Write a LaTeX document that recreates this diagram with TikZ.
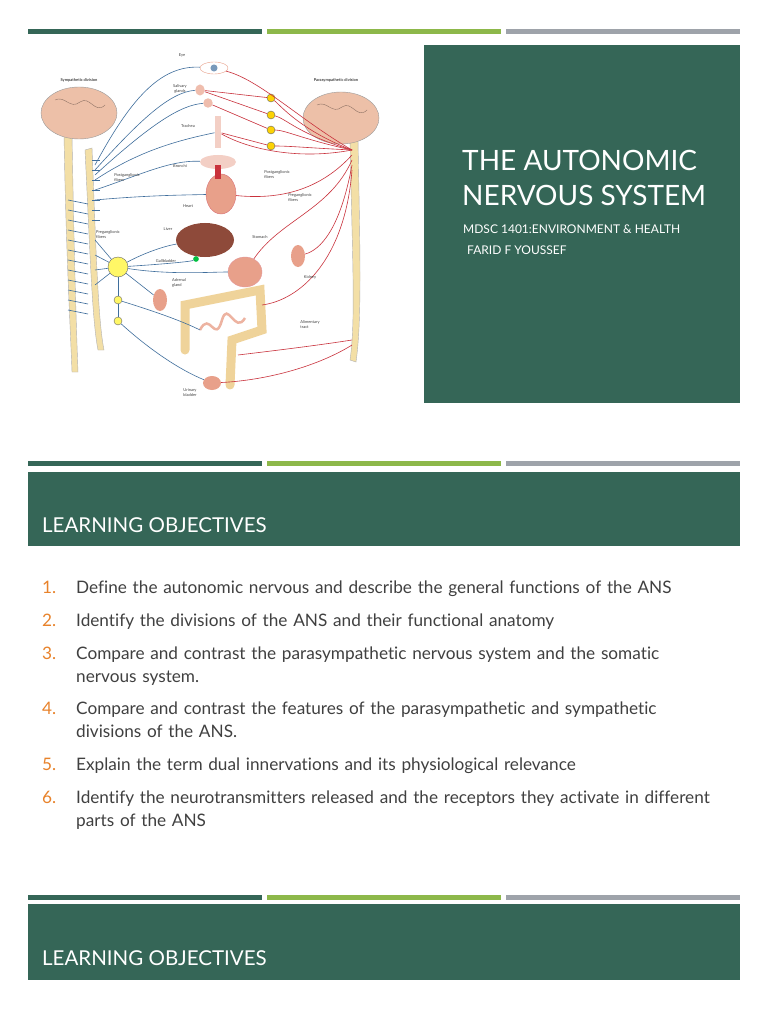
\documentclass[tikz,border=0pt]{standalone}
\usepackage{fontspec}
\setmainfont{Lato}[Ligatures={NoCommon}]
\usetikzlibrary{shapes.geometric}
\definecolor{slgreen}{HTML}{356657}
\definecolor{lgreen}{HTML}{8DB84A}
\definecolor{bgrey}{HTML}{9EA3AA}
\definecolor{tgrey}{HTML}{404040}
\definecolor{onum}{HTML}{E8822A}
\definecolor{nblue}{HTML}{3F6E9C}
\definecolor{nred}{HTML}{C9323C}
\definecolor{brain}{HTML}{EDC0A8}
\definecolor{cord}{HTML}{F3DFA6}
\definecolor{liver}{HTML}{8E4A3A}
\definecolor{organ}{HTML}{E8A08A}
\definecolor{gut}{HTML}{EFD39A}
\tikzset{
 lbl/.style={font=\fontsize{4}{5}\selectfont, text=black!75, inner sep=0pt},
 obj/.style={text=tgrey, anchor=north west, align=left, text width=690pt, inner sep=0pt, font=\fontsize{17.2}{23}\selectfont},
 num/.style={text=onum, anchor=north west, inner sep=0pt, font=\fontsize{17.2}{23}\selectfont},
 bl/.style={nblue, line width=0.6pt},
 rd/.style={nred, line width=0.6pt},
 gang/.style={circle, draw=black!60, fill=yellow!60!white, inner sep=0pt},
}
\newcommand{\topbars}[1]{%
 \fill[slgreen] (28,#1) rectangle (262,#1+5);
 \fill[lgreen] (267,#1) rectangle (501,#1+5);
 \fill[bgrey] (506,#1) rectangle (740,#1+5);}
\begin{document}
\begin{tikzpicture}[x=1pt,y=-1pt]
\useasboundingbox (0,0) rectangle (768,1024);
\fill[white] (0,0) rectangle (768,1024);
\topbars{29}
\topbars{461}
\topbars{895}
% ---------- illustration -------
\begin{scope}
\fill[cord, draw=black!30] (64,135) .. controls (66,250) and (70,320) .. (72,372) -- (78,372) .. controls (76,320) and (74,250) .. (72,135) -- cycle;
\fill[cord, draw=black!30] (85,150) .. controls (90,250) and (92,320) .. (98,350) -- (104,350) .. controls (98,320) and (96,250) .. (92,148) -- cycle;
\fill[cord, draw=black!30] (350,140) .. controls (352,250) and (356,320) .. (350,360) -- (356,362) .. controls (362,320) and (360,250) .. (358,140) -- cycle;
\node[ellipse, fill=brain, draw=black!40, minimum width=76pt, minimum height=52pt] (lbrain) at (79,113) {};
\node[ellipse, fill=brain, draw=black!40, minimum width=76pt, minimum height=52pt] (rbrain) at (341,118) {};
\draw[brain!60!black, line width=0.4pt] (55,100) .. controls (65,95) and (70,110) .. (80,102) .. controls (90,95) and (95,115) .. (105,105);
\draw[brain!60!black, line width=0.4pt] (317,105) .. controls (327,100) and (332,115) .. (342,107) .. controls (352,100) and (357,120) .. (367,110);
\node[ellipse, fill=white, draw=organ, minimum width=28pt, minimum height=12pt] (eye) at (214,68) {};
\node[circle, fill=nblue!70, inner sep=2.5pt] (iris) at (214,68) {};
\node[ellipse, fill=organ!70, minimum width=9pt, minimum height=11pt] (saliv) at (200,90) {};
\node[ellipse, fill=organ!70, minimum width=7pt, minimum height=5pt] (saliv2) at (208,103) {};
\node[rectangle, fill=organ!50, minimum width=6pt, minimum height=32pt] (trachea) at (218,132) {};
\node[ellipse, fill=organ!50, minimum width=36pt, minimum height=14pt] (bronchi) at (218,162) {};
\node[ellipse, fill=organ, draw=nred!70, minimum width=30pt, minimum height=40pt] (heart) at (221,194) {};
\node[rectangle, fill=nred, minimum width=4pt, minimum height=14pt] (aorta) at (218,172) {};
\node[ellipse, fill=liver, minimum width=58pt, minimum height=34pt] (liver) at (205,240) {};
\node[circle, fill=green!50!teal, inner sep=2pt] (gall) at (196,259) {};
\node[ellipse, fill=organ, draw=nred!50, minimum width=34pt, minimum height=30pt] (stomach) at (245,272) {};
\node[ellipse, fill=organ, minimum width=14pt, minimum height=22pt] (lkid) at (160,300) {};
\node[ellipse, fill=organ, minimum width=14pt, minimum height=22pt] (rkid) at (298,256) {};
\draw[gut, line width=9pt, line cap=round] (185,350) -- (185,305) -- (260,290) -- (262,330) -- (232,340) -- (230,385);
\draw[organ!80, line width=2.5pt] (200,330) .. controls (210,310) and (215,345) .. (222,320) .. controls (228,300) and (235,335) .. (245,318);
\node[ellipse, fill=organ, minimum width=18pt, minimum height=14pt] (bladder) at (212,383) {};
\node[gang, minimum size=20pt] (g1) at (118,267) {};
\node[gang, minimum size=8pt] (g2) at (118,300) {};
\node[gang, minimum size=8pt] (g3) at (118,321) {};
\foreach \yy/\n in {98/p1,115/p2,130/p3,146/p4}{\node[gang, minimum size=8pt, fill=yellow!70!orange] (\n) at (271,\yy) {};}
\foreach \yy in {160,170,180,190,200,210,220}{\draw[bl] (92,\yy) -- (100,\yy);}
\foreach \yy in {200,210,220,230,240,250,260,270,280,290,300,310}{\draw[bl] (68,\yy) -- (88,\yy+4);}
\draw[bl] (95,165) .. controls (130,100) and (160,65) .. (eye);
\draw[bl] (95,170) .. controls (140,120) and (170,92) .. (saliv);
\draw[bl] (95,175) .. controls (150,125) and (180,105) .. (saliv2);
\draw[bl] (95,180) .. controls (140,150) and (180,140) .. (trachea);
\draw[bl] (95,190) .. controls (140,175) and (170,160) .. (bronchi);
\draw[bl] (95,200) .. controls (150,195) and (190,195) .. (heart);
\draw[bl] (g1) .. controls (150,250) and (170,245) .. (liver);
\draw[bl] (g1) .. controls (150,265) and (190,262) .. (gall);
\draw[bl] (g1) .. controls (170,275) and (210,272) .. (stomach);
\draw[bl] (g1) -- (lkid);
\draw[bl] (g2) .. controls (150,310) and (180,320) .. (200,330);
\draw[bl] (g3) .. controls (150,350) and (180,370) .. (bladder);
\draw[bl] (g1) -- (g2) -- (g3);
\foreach \yy in {240,255,270,285}{\draw[bl] (95,\yy) -- (g1);}
\draw[rd] (352,150) .. controls (300,120) and (260,80) .. (eye);
\draw[rd] (352,150) .. controls (300,130) and (280,105) .. (p1) -- (saliv);
\draw[rd] (352,150) .. controls (300,135) and (285,118) .. (p2) -- (saliv);
\draw[rd] (352,150) .. controls (305,140) and (285,130) .. (p3) -- (saliv2);
\draw[rd] (352,150) .. controls (310,148) and (290,146) .. (p4) -- (trachea);
\draw[rd] (352,150) .. controls (300,160) and (250,150) .. (trachea);
\draw[rd] (352,155) .. controls (320,190) and (280,200) .. (heart);
\draw[rd] (352,160) .. controls (330,210) and (280,220) .. (stomach);
\draw[rd] (352,165) .. controls (340,230) and (320,250) .. (rkid);
\draw[rd] (352,170) .. controls (345,260) and (300,300) .. (262,305);
\draw[rd] (352,340) .. controls (320,345) and (280,350) .. (238,355);
\draw[rd] (352,345) .. controls (320,365) and (270,380) .. (bladder);
\node[lbl] (ls) at (79,80) {\textbf{Sympathetic division}};
\node[lbl] (lp) at (336,80) {\textbf{Parasympathetic division}};
\node[lbl] (leye) at (182,55) {Eye};
\node[lbl, align=center] (lsal) at (180,89) {Salivary\\glands};
\node[lbl] (ltr) at (188,126) {Trachea};
\node[lbl] (lbr) at (180,166) {Bronchi};
\node[lbl] (lhe) at (188,206) {Heart};
\node[lbl] (lli) at (168,229) {Liver};
\node[lbl] (lga) at (166,261) {Gallbladder};
\node[lbl, align=left] (lad) at (179,283) {Adrenal\\gland};
\node[lbl] (lst) at (260,237) {Stomach};
\node[lbl] (lki) at (310,277) {Kidney};
\node[lbl, align=left] (lal) at (310,325) {Alimentary\\tract};
\node[lbl, align=center] (lub) at (190,393) {Urinary\\bladder};
\node[lbl, align=left] (lpo1) at (127,178) {Postganglionic\\fibers};
\node[lbl, align=left] (lpr1) at (108,235) {Preganglionic\\fibers};
\node[lbl, align=left] (lpo2) at (277,175) {Postganglionic\\fibers};
\node[lbl, align=left] (lpr2) at (300,198) {Preganglionic\\fibers};
\end{scope}
% ---------- title panel -------
\fill[slgreen] (424,45) rectangle (740,403);
\node[anchor=north west, inner sep=0pt, text=white, font=\fontsize{28}{35}\selectfont, align=left] (title) at (462,150) {THE AUTONOMIC\\NERVOUS SYSTEM};
\node[anchor=north west, inner sep=0pt, text=white, font=\fontsize{12}{14}\selectfont] (sub1) at (463,225) {MDSC 1401:ENVIRONMENT \& HEALTH};
\node[anchor=north west, inner sep=0pt, text=white, font=\fontsize{12}{14}\selectfont] (sub2) at (467,246) {FARID F YOUSSEF};
% ---------- learning objectives -------
\fill[slgreen] (28,472) rectangle (740,546);
\node[anchor=west, inner sep=0pt, text=white, font=\fontsize{20.5}{24}\selectfont] (lo1) at (42,525) {LEARNING OBJECTIVES};
\node[num] (n1) at (42,581) {1.};
\node[obj] (o1) at (76,581) {Define the autonomic nervous and describe the general functions of the ANS};
\node[num] (n2) at (42,614) {2.};
\node[obj] (o2) at (76,614) {Identify the divisions of the ANS and their functional anatomy};
\node[num] (n3) at (42,647) {3.};
\node[obj] (o3) at (76,647) {Compare and contrast the parasympathetic nervous system and the somatic\\nervous system.};
\node[num] (n4) at (42,702) {4.};
\node[obj] (o4) at (76,702) {Compare and contrast the features of the parasympathetic and sympathetic\\divisions of the ANS.};
\node[num] (n5) at (42,758) {5.};
\node[obj] (o5) at (76,758) {Explain the term dual innervations and its physiological relevance};
\node[num] (n6) at (42,791) {6.};
\node[obj] (o6) at (76,791) {Identify the neurotransmitters released and the receptors they activate in different\\parts of the ANS};
\fill[slgreen] (28,904) rectangle (740,980);
\node[anchor=west, inner sep=0pt, text=white, font=\fontsize{20.5}{24}\selectfont] (lo2) at (42,958) {LEARNING OBJECTIVES};
\end{tikzpicture}
\end{document}
